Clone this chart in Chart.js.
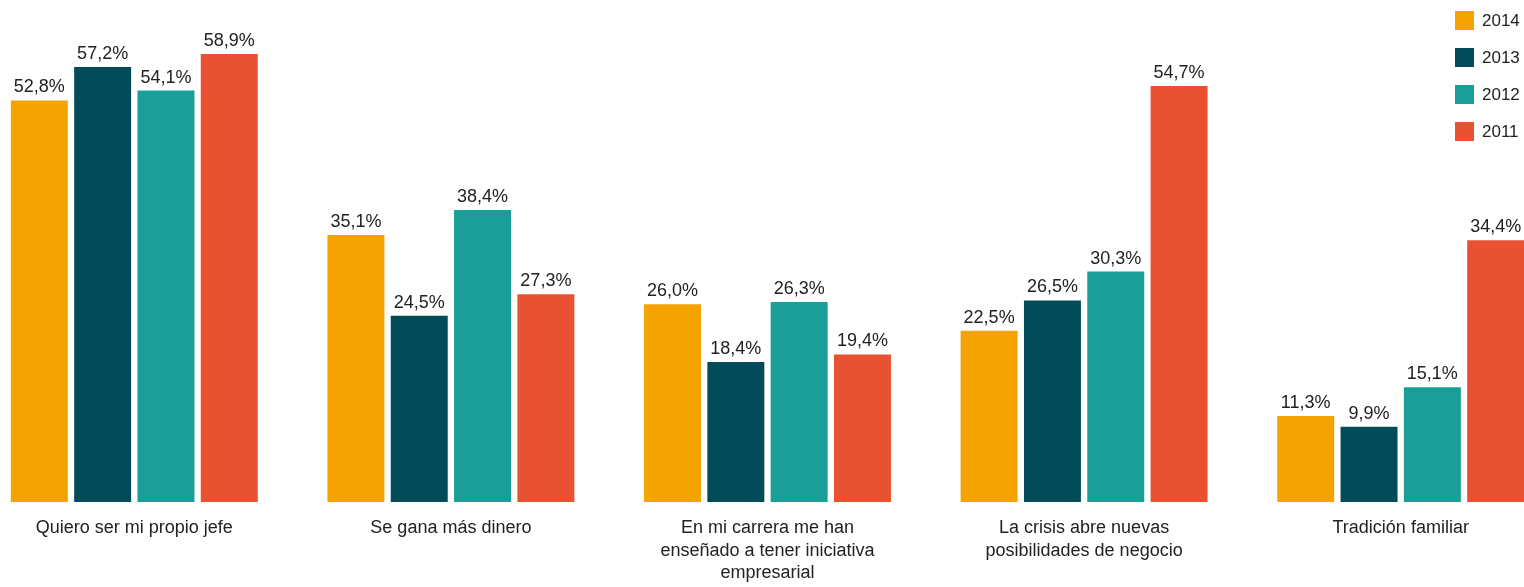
<!DOCTYPE html>
<html>
<head>
<meta charset="utf-8">
<script src="https://cdn.jsdelivr.net/npm/chart.js@4"></script>
<style>
  html, body { margin: 0; padding: 0; background: #fff; overflow: hidden; }
  body { width: 1524px; height: 587px; position: relative; }
  #chart { position: absolute; left: -24px; top: 0; }
  #legend { position: absolute; left: 1455px; top: 11px; font-family: "Liberation Sans", sans-serif; font-size: 17px; color: #222; }
  #legend .item { height: 19px; margin-bottom: 18px; display: flex; align-items: center; }
  #legend .box { width: 19px; height: 19px; margin-right: 8px; }
</style>
</head>
<body>
<canvas id="chart" width="1583" height="587"></canvas>
<div id="legend"></div>
<script>
const categories = [
    'Quiero ser mi propio jefe',
    'Se gana más dinero',
    ['En mi carrera me han', 'enseñado a tener iniciativa', 'empresarial'],
    ['La crisis abre nuevas', 'posibilidades de negocio'],
    'Tradición familiar'
];
const seriesNames = ['2014', '2013', '2012', '2011'];
const values2014 = [52.8, 35.1, 26.0, 22.5, 11.3];
const values2013 = [57.2, 24.5, 18.4, 26.5, 9.9];
const values2012 = [54.1, 38.4, 26.3, 30.3, 15.1];
const values2011 = [58.9, 27.3, 19.4, 54.7, 34.4];
const seriesColors = ['#F5A300', '#024B58', '#1A9F98', '#E85231'];

const fontFamily = '"Liberation Sans", sans-serif';

const valueLabels = {
    id: 'valueLabels',
    afterDatasetsDraw(chart) {
        const ctx = chart.ctx;
        ctx.save();
        ctx.font = '18px ' + fontFamily;
        ctx.fillStyle = '#222';
        ctx.textAlign = 'center';
        ctx.textBaseline = 'alphabetic';
        chart.data.datasets.forEach((ds, i) => {
            chart.getDatasetMeta(i).data.forEach((bar, j) => {
                const txt = ds.data[j].toFixed(1).replace('.', ',') + '%';
                ctx.fillText(txt, bar.x, bar.y - 8);
            });
        });
        ctx.restore();
    }
};

const allValues = [values2014, values2013, values2012, values2011];

const ctx = document.getElementById('chart').getContext('2d');
const chart = new Chart(ctx, {
    type: 'bar',
    data: {
        labels: categories,
        datasets: seriesNames.map((name, i) => ({
            label: name,
            data: allValues[i],
            backgroundColor: seriesColors[i],
            borderWidth: 0,
            categoryPercentage: 0.8,
            barPercentage: 0.9
        }))
    },
    options: {
        responsive: false,
        animation: false,
        layout: { padding: 0 },
        plugins: {
            legend: { display: false },
            tooltip: { enabled: false }
        },
        scales: {
            x: {
                grid: { display: false, drawTicks: false },
                border: { display: false },
                ticks: {
                    maxRotation: 0,
                    autoSkip: false,
                    padding: 15,
                    color: '#222',
                    font: { family: fontFamily, size: 18, lineHeight: 1.25 }
                },
                afterFit(scale) { scale.height = 85; }
            },
            y: {
                display: false,
                min: 0,
                max: 66
            }
        }
    },
    plugins: [valueLabels]
});

const legend = document.getElementById('legend');
seriesNames.forEach((name, i) => {
    const item = document.createElement('div');
    item.className = 'item';
    item.innerHTML = '<span class="box" style="background:' + seriesColors[i] + '"></span><span>' + name + '</span>';
    legend.appendChild(item);
});
</script>
</body>
</html>
